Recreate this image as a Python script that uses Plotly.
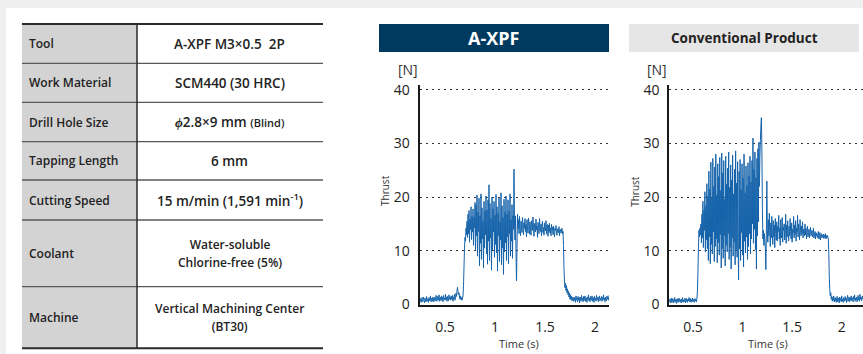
import plotly.graph_objects as go

W, H = 863, 354

# ------------------------------------------------------------------ data
table_labels = ["Tool", "Work Material", "Drill Hole Size", "Tapping Length",
                "Cutting Speed", "Coolant", "Machine"]
table_values = ["A-XPF M3×0.5\u00a0\u00a02P",
                "SCM440 (30 HRC)",
                "<i>ϕ</i>2.8×9 mm <span style='font-size:11px'>(Blind)</span>",
                "6 mm",
                "15 m/min (1,591 min<sup>-1</sup>)",
                "<span style='font-size:12px'>Water-soluble<br>Chlorine-free (5%)</span>",
                "<span style='font-size:12px'>Vertical Machining Center<br>(BT30)</span>"]

panel_titles = ["A-XPF", "Conventional Product"]

x_tick_vals = [0.5, 1, 1.5, 2]
x_tick_text = ["0.5", "1", "1.5", "2"]
y_tick_vals = [0, 10, 20, 30, 40]
y_tick_text = ["0", "10", "20", "30", "40"]

# sampling grids (start time, step) of the two recorded signals
xpf_t0, xpf_dt = 0.25, 0.005
conv_t0, conv_dt = 0.26, 0.005

# thrust [N], A-XPF
xpf_thrust = [
    0.6, 1.1, 0.4, 0.9, 1.3, 0.5, 0.8, 1.4, 0.7, 0.3,
    1.2, 0.9, 0.5, 1.5, 0.8, 0.6, 1.1, 0.4, 1.3, 0.9,
    0.7, 1.6, 0.5, 1.0, 1.2, 0.6, 1.4, 0.8, 0.5, 1.3,
    1.0, 0.7, 1.7, 0.9, 0.6, 1.5, 1.1, 0.8, 1.8, 0.6,
    1.2, 1.4, 0.7, 1.6, 0.9, 1.3, 0.5, 1.7, 1.0, 1.2,
    0.8, 1.9, 0.9, 1.4, 0.6, 1.5, 1.1, 0.7, 1.8, 1.0,
    1.3, 0.8, 1.6, 1.2, 0.9, 1.7, 0.6, 1.4, 1.1, 1.9,
    0.8, 1.3, 2.1, 1.5, 2.6, 3.2, 2.4, 1.8, 2.2, 1.4,
    1.0, 1.6, 0.9, 1.3, 0.8, 1.2, 1.6,
    3.5, 7.0, 10.5, 12.5, 11.8, 14.2, 13.0, 15.5,
    12.5, 16.8, 13.2, 17.5, 11.6, 15.9, 14.0, 18.2, 12.1, 16.4, 13.5, 17.8, 11.0, 16.2, 14.3, 19.0,
    10.2, 18.5, 12.8, 20.4, 9.0, 17.2, 13.6, 19.8, 7.2, 16.5, 11.4, 20.6, 8.4, 18.0, 12.2, 15.6, 6.8, 19.2, 10.5, 17.4,
    13.0, 20.2, 9.4, 17.6, 7.5, 19.5, 11.8, 22.3, 8.2, 18.8, 12.4, 16.0, 6.4, 20.0, 10.2, 17.8, 13.5, 19.2, 8.8, 16.6,
    11.2, 20.5, 9.6, 18.2, 6.2, 17.0, 12.8, 19.8, 8.0, 15.4, 12.0, 20.8, 7.4, 18.4, 10.6, 16.2, 5.6, 19.6, 9.8, 17.2,
    11.5, 20.2, 8.2, 16.8, 12.6, 19.5, 7.6, 17.4, 13.2, 20.6, 9.0, 15.8, 11.8, 18.6, 8.6, 16.5, 14.0,
    25.2, 15.0, 12.0, 16.5, 9.5, 4.4, 10.5, 16.8, 14.2,
    15.8, 13.2, 16.4, 14.0, 12.8, 15.5, 14.6, 13.4, 16.2, 14.8,
    13.0, 15.2, 14.2, 16.0, 13.6, 14.9, 12.6, 15.8, 14.4, 13.3,
    16.1, 14.7, 13.1, 15.4, 14.0, 12.9, 15.6, 14.5, 13.8, 16.3,
    14.2, 12.7, 15.1, 14.8, 13.5, 15.9, 13.9, 14.6, 12.5, 15.3,
    14.4, 13.2, 16.0, 14.1, 13.6, 15.0, 12.8, 14.7, 15.5, 13.4,
    14.3, 12.9, 15.2, 14.0, 13.7, 15.6, 13.1, 14.5, 14.9, 12.7,
    14.8, 13.6, 15.1, 13.3, 14.2, 12.8, 14.9, 13.9, 14.4, 13.0,
    14.6, 13.5, 12.6, 14.2, 13.8, 14.7, 13.2, 12.9, 14.1, 13.6,
    13.4, 14.5, 12.8, 13.9, 14.0, 13.3, 13.7, 14.2, 13.1, 13.6,
    11.0, 6.5, 4.2, 3.1, 4.0, 2.6, 3.5, 2.2, 2.9, 1.8,
    2.5, 1.4, 2.1, 1.0, 1.8, 0.9, 1.5, 0.7, 1.3, 1.0,
    0.6, 1.4, 0.8, 1.2, 0.4, 1.6, 0.9, 1.1, 0.5, 1.5,
    0.8, 1.3, 0.3, 1.4, 1.0, 0.6, 1.7, 0.9, 1.2, 0.5,
    1.5, 0.7, 1.1, 1.6, 0.6, 1.3, 0.9, 0.4, 1.4, 1.0,
    1.8, 0.7, 1.2, 0.5, 1.5, 1.1, 0.8, 1.6, 0.6, 1.3,
    1.0, 0.4, 1.5, 0.9, 1.2, 0.6, 1.7, 1.0, 0.8, 1.4,
    0.5, 1.2, 1.6, 0.7, 1.1, 0.9, 1.5, 0.6, 1.3, 1.0,
    1.8, 0.8, 1.2, 0.5, 1.4, 1.1, 0.7, 1.6, 1.0, 1.3,
    0.8, 1.7,
]

# thrust [N], conventional product
conv_thrust = [
    0.5, 1.0, 0.3, 0.8, 1.2, 0.4, 0.7, 1.1, 0.3, 0.9,
    0.6, 1.3, 0.4, 0.8, 1.0, 0.2, 0.9, 0.6, 1.2, 0.4,
    0.7, 1.1, 0.5, 0.9, 0.3, 1.0, 0.6, 1.3, 0.4, 0.8,
    0.5, 1.1, 0.7, 0.3, 1.2, 0.6, 0.9, 0.4, 1.0, 0.7,
    1.3, 0.5, 0.8, 1.1, 0.4, 0.9, 0.6, 1.2, 0.5, 0.8,
    1.0, 0.4, 1.1, 0.7, 0.9, 0.5, 1.2,
    2.5, 6.0, 10.5, 13.8, 12.6, 14.2, 13.0, 15.0,
    11.5, 16.8, 12.4, 19.2, 10.6, 17.5, 13.8, 21.0, 9.8, 18.4, 12.0, 22.5, 10.4, 20.2,
    8.2, 24.8, 12.6, 21.5, 7.6, 26.5, 11.2, 19.8, 9.4, 27.2, 13.5, 22.0, 8.0, 25.6, 10.8, 28.0, 12.2, 20.4, 7.8, 26.2,
    11.5, 23.8, 9.2, 27.4, 13.0, 21.2, 6.8, 28.2, 10.4, 24.5, 8.6, 26.8, 12.8, 19.6, 7.2, 27.6, 11.0, 22.4, 9.8, 25.4,
    13.2, 28.4, 8.4, 21.8, 10.6, 26.0, 6.6, 23.2, 12.4, 27.8, 9.0, 20.6, 11.6, 25.2, 7.4, 28.6, 10.2, 22.6, 8.8, 26.6,
    12.0, 4.6, 24.8, 10.4, 27.0, 8.2, 21.4, 13.4, 26.2, 9.2, 23.6, 7.0, 28.0, 11.8, 20.8, 9.6, 25.8, 12.6, 22.2, 8.4,
    26.4, 10.8, 24.0, 13.2, 27.6, 9.4, 22.8, 12.2, 26.8, 15.0, 31.0, 11.4, 25.2, 14.0, 28.4, 10.2, 23.6, 6.6, 27.2, 12.8, 29.0, 15.4, 30.2,
    22.0, 27.5, 30.6, 33.2, 34.8, 29.0, 18.0, 12.2, 13.8, 11.0, 13.2, 12.0, 10.5, 6.5, 13.0, 23.0,
    14.0, 11.6, 15.8, 12.8, 17.0, 13.4, 10.8, 15.2, 12.4, 16.4,
    13.0, 11.2, 15.6, 12.6, 14.8, 10.6, 16.0, 13.2, 12.0, 15.4,
    11.8, 14.6, 13.6, 16.6, 12.2, 14.2, 11.0, 15.8, 13.0, 12.4,
    16.2, 11.6, 14.4, 13.8, 15.0, 12.0, 13.4, 16.8, 11.4, 14.8,
    12.6, 15.6, 13.2, 11.8, 14.6, 12.8, 16.0, 13.6, 12.2, 15.2,
    11.6, 14.0, 13.4, 16.4, 12.4, 14.8, 13.0, 15.6, 11.8, 14.2,
    13.6, 16.6, 12.6, 15.0, 13.2, 12.0, 15.8, 13.8, 12.8, 14.6,
    13.2, 15.4, 12.4, 14.0, 13.6, 12.8, 15.0, 13.0, 14.2, 12.2,
    13.8, 14.6, 12.6, 13.4, 14.0, 12.4, 13.6, 14.4, 12.8, 13.2,
    13.8, 12.6, 13.4, 14.2, 12.4, 13.0, 13.6, 12.2, 13.4, 12.8,
    13.2, 12.4, 13.0, 13.6, 12.2, 12.8, 13.4, 12.0, 12.8, 13.2,
    12.4, 12.9,
    12.6, 13.1, 12.3, 12.9, 12.5, 13.2, 12.2, 12.8, 12.4, 12.9, 12.6, 12.2,
    9.5, 5.0, 2.8, 1.6, 2.2, 1.0, 1.5, 0.6, 1.3, 0.8, 1.6, 0.5, 1.1,
    0.7, 1.3, 0.4, 1.0, 1.5, 0.5, 0.9, 1.2, 0.3, 1.4,
    0.8, 1.1, 0.5, 1.6, 0.7, 1.0, 0.4, 1.3, 0.9, 0.6,
    1.5, 0.8, 1.2, 0.4, 1.1, 1.7, 0.6, 1.0, 1.4, 0.5,
    1.2, 0.8, 1.6, 0.7, 1.3, 0.9, 0.5, 1.5, 1.0, 1.8,
    0.6, 1.2, 0.9, 1.4, 0.5, 1.1, 1.7, 0.8, 1.3, 0.6,
    1.9, 1.0, 1.4, 0.7, 1.2, 1.6, 0.9,
]

xpf_time = [round(xpf_t0 + i * xpf_dt, 4) for i in range(len(xpf_thrust))]
conv_time = [round(conv_t0 + i * conv_dt, 4) for i in range(len(conv_thrust))]

# ------------------------------------------------------------------ helpers
def px(x):
    return x / W


def py(y):
    return 1 - y / H


FONT = "Open Sans"
LINE_BLUE = "#1663aa"

fig = go.Figure()
fig.add_trace(go.Scatter(x=xpf_time, y=xpf_thrust, mode="lines",
                         line=dict(color=LINE_BLUE, width=1, simplify=False),
                         xaxis="x", yaxis="y", showlegend=False, hoverinfo="skip"))
fig.add_trace(go.Scatter(x=conv_time, y=conv_thrust, mode="lines",
                         line=dict(color=LINE_BLUE, width=1, simplify=False),
                         xaxis="x2", yaxis="y2", showlegend=False, hoverinfo="skip"))

ax_common = dict(showline=True, linecolor="#1a1a1a", linewidth=2, zeroline=False,
                 tickfont=dict(family=FONT, size=14, color="#222"), ticks="",
                 fixedrange=True, automargin=False)

plot_top, plot_bot = 85, 304.5
y_range = [0, 40 * (plot_bot - plot_top) / (plot_bot - 89.7)]

shapes = []
annotations = []

# page background panel
shapes.append(dict(type="rect", xref="paper", yref="paper", x0=px(6), x1=1.0,
                   y0=0, y1=py(8), fillcolor="white", line_width=0, layer="below"))

# ------------------------------------------------------------------ table
tbl_x0, tbl_xm, tbl_x1 = 22, 137, 323
row_edges = [24, 63.3, 102.3, 141.7, 180, 220, 286.7, 348.3]
shapes.append(dict(type="rect", xref="paper", yref="paper", x0=px(tbl_x0), x1=px(tbl_xm),
                   y0=py(row_edges[-1]), y1=py(row_edges[0]), fillcolor="#d3d3d3",
                   line_width=0, layer="below"))
for i, ye in enumerate(row_edges):
    edge = i in (0, len(row_edges) - 1)
    shapes.append(dict(type="line", xref="paper", yref="paper", x0=px(tbl_x0), x1=px(tbl_x1),
                       y0=py(ye), y1=py(ye),
                       line=dict(color="#2a2a2a" if edge else "#5a5a5a", width=2 if edge else 1.3)))
shapes.append(dict(type="line", xref="paper", yref="paper", x0=px(tbl_xm), x1=px(tbl_xm),
                   y0=py(row_edges[-1]), y1=py(row_edges[0]),
                   line=dict(color="#2a2a2a", width=1.5)))
for i, (lab, val) in enumerate(zip(table_labels, table_values)):
    yc = (row_edges[i] + row_edges[i + 1]) / 2
    annotations.append(dict(text=lab, xref="paper", yref="paper", x=px(27), y=py(yc),
                            xanchor="left", yanchor="middle", showarrow=False,
                            font=dict(family=FONT, size=12, color="#222", weight=600)))
    annotations.append(dict(text=val, xref="paper", yref="paper",
                            x=px((tbl_xm + tbl_x1) / 2), y=py(yc),
                            xanchor="center", yanchor="middle", showarrow=False,
                            font=dict(family=FONT, size=13.5, color="#222", weight=600)))

# ------------------------------------------------------------------ panels
panels = [
    dict(ax_left=419.5, ax_right=609, xr=[0.245, 2.14], box=(379, 609),
         box_fill="#003a5f", title_color="white", title_size=18),
    dict(ax_left=669.3, ax_right=863, xr=[0.261, 2.215], box=(629, 859),
         box_fill="#e6e6e6", title_color="#222", title_size=13.5),
]
layout_axes = {}
for k, p in enumerate(panels):
    sfx = "" if k == 0 else str(k + 1)
    layout_axes["xaxis" + sfx] = dict(
        ax_common, domain=[px(p["ax_left"]), px(p["ax_right"])], range=p["xr"],
        anchor="y" + sfx, showgrid=False, tickvals=x_tick_vals, ticktext=x_tick_text,
        ticklabelstandoff=9)
    layout_axes["yaxis" + sfx] = dict(
        ax_common, domain=[py(plot_bot), py(plot_top)], range=y_range,
        anchor="x" + sfx, showgrid=True, gridcolor="#333", gridwidth=1,
        griddash="2px,4px", tickvals=y_tick_vals, ticktext=y_tick_text,
        ticklabelstandoff=5)
    bx0, bx1 = p["box"]
    shapes.append(dict(type="rect", xref="paper", yref="paper", x0=px(bx0), x1=px(bx1),
                       y0=py(52), y1=py(24), fillcolor=p["box_fill"], line_width=0))
    annotations.append(dict(text=panel_titles[k], xref="paper", yref="paper",
                            x=px((bx0 + bx1) / 2), y=py(38.5), xanchor="center",
                            yanchor="middle", showarrow=False,
                            font=dict(family=FONT, size=p["title_size"],
                                      color=p["title_color"], weight=700)))
    al = p["ax_left"]
    annotations.append(dict(text="[N]", xref="paper", yref="paper", x=px(al - 12),
                            y=py(69), xanchor="center", yanchor="middle", showarrow=False,
                            font=dict(family=FONT, size=14, color="#333")))
    annotations.append(dict(text="Thrust", xref="paper", yref="paper", x=px(al - 34.5),
                            y=py(191), xanchor="center", yanchor="middle", showarrow=False,
                            textangle=-90, font=dict(family=FONT, size=10, color="#333")))
    annotations.append(dict(text="Time (s)", xref="paper", yref="paper", x=px(al + 99),
                            y=py(343), xanchor="center", yanchor="middle", showarrow=False,
                            font=dict(family=FONT, size=11, color="#333")))

fig.update_layout(
    width=W, height=H, autosize=False,
    margin=dict(l=0, r=0, t=0, b=0, pad=0, autoexpand=False),
    paper_bgcolor="#efefef", plot_bgcolor="white",
    shapes=shapes, annotations=annotations, showlegend=False,
    **layout_axes,
)

page_fix = (
    "var de=document.documentElement, b=document.body;"
    "de.style.margin='0'; de.style.padding='0'; de.style.overflow='hidden';"
    "de.style.height='354px'; b.style.margin='0'; b.style.padding='0';"
    "b.style.overflow='hidden'; b.style.height='354px';"
    "var g=document.getElementsByClassName('plotly-graph-div')[0];"
    "g.style.position='fixed'; g.style.left='0px'; g.style.top='0px';"
)
fig.write_html("out.html", config={"displayModeBar": False}, post_script=page_fix)
